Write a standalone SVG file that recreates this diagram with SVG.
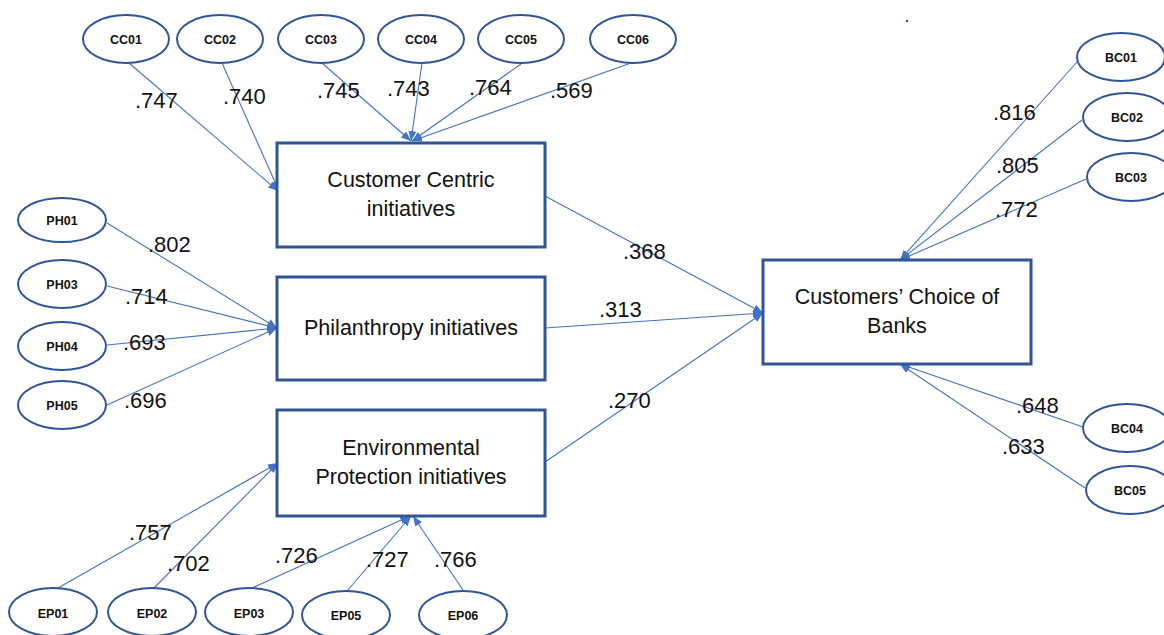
<svg xmlns="http://www.w3.org/2000/svg" width="1164" height="635" viewBox="0 0 1164 635">
<defs>
<marker id="arr" markerUnits="userSpaceOnUse" markerWidth="10" markerHeight="10" viewBox="0 0 10 10" refX="10" refY="5" orient="auto">
<path d="M0,1 L10,5 L0,9 Z" fill="#4472C4"/>
</marker>
<style>
.box{fill:#fff;stroke:#2F5597;stroke-width:3}
.ell{fill:#fff;stroke:#2F5597;stroke-width:2}
.ln{stroke:#4472C4;stroke-width:1.1;fill:none;marker-end:url(#arr)}
.bt{font-family:"Liberation Sans",Arial,sans-serif;font-size:21.5px;fill:#111;text-anchor:middle}
.et{font-family:"Liberation Sans",Arial,sans-serif;font-size:12.5px;font-weight:bold;fill:#111;text-anchor:middle}
.lb{font-family:"Liberation Sans",Arial,sans-serif;font-size:22px;fill:#111}
</style>
</defs>
<rect width="1164" height="635" fill="#fff"/>
<rect x="906" y="20" width="2" height="2" fill="#3333ff"/>

<g id="connectors">
<line class="ln" x1="129" y1="63" x2="278" y2="191"/>
<line class="ln" x1="222" y1="63" x2="279" y2="191"/>
<line class="ln" x1="322" y1="63" x2="411" y2="141"/>
<line class="ln" x1="422" y1="63" x2="411" y2="141"/>
<line class="ln" x1="521" y1="64" x2="412" y2="141"/>
<line class="ln" x1="631" y1="63" x2="412" y2="141"/>
<line class="ln" x1="107" y1="223" x2="277" y2="328"/>
<line class="ln" x1="107" y1="286" x2="277" y2="328"/>
<line class="ln" x1="107" y1="345" x2="277" y2="328"/>
<line class="ln" x1="107" y1="405" x2="277" y2="328"/>
<line class="ln" x1="58" y1="588" x2="278" y2="463"/>
<line class="ln" x1="154" y1="588" x2="278" y2="463"/>
<line class="ln" x1="252" y1="588" x2="410" y2="516"/>
<line class="ln" x1="348" y1="590" x2="411" y2="516"/>
<line class="ln" x1="463" y1="590" x2="413" y2="516"/>
<line class="ln" x1="545" y1="196" x2="763" y2="313"/>
<line class="ln" x1="545" y1="328" x2="763" y2="313"/>
<line class="ln" x1="545" y1="462" x2="763" y2="313"/>
<line class="ln" x1="1077" y1="62" x2="900" y2="260"/>
<line class="ln" x1="1082" y1="120" x2="900" y2="260"/>
<line class="ln" x1="1086" y1="179" x2="900" y2="260"/>
<line class="ln" x1="1083" y1="427" x2="900" y2="364"/>
<line class="ln" x1="1085" y1="488" x2="900" y2="364"/>
</g>

<g id="labels">
<text class="lb" x="135" y="108">.747</text>
<text class="lb" x="223" y="104">.740</text>
<text class="lb" x="317" y="98">.745</text>
<text class="lb" x="387" y="96">.743</text>
<text class="lb" x="469" y="95">.764</text>
<text class="lb" x="550" y="98">.569</text>
<text class="lb" x="148" y="252">.802</text>
<text class="lb" x="125" y="304">.714</text>
<text class="lb" x="123" y="350">.693</text>
<text class="lb" x="124" y="408">.696</text>
<text class="lb" x="129" y="540">.757</text>
<text class="lb" x="167" y="571">.702</text>
<text class="lb" x="275" y="563">.726</text>
<text class="lb" x="366" y="567">.727</text>
<text class="lb" x="434" y="567">.766</text>
<text class="lb" x="623" y="259">.368</text>
<text class="lb" x="599" y="317">.313</text>
<text class="lb" x="608" y="408">.270</text>
<text class="lb" x="993" y="120">.816</text>
<text class="lb" x="996" y="173">.805</text>
<text class="lb" x="995" y="217">.772</text>
<text class="lb" x="1016" y="413">.648</text>
<text class="lb" x="1002" y="454">.633</text>
</g>

<g id="CC01"><ellipse class="ell" cx="126" cy="39" rx="43" ry="24"/><text class="et" x="126" y="44">CC01</text></g>
<g id="CC02"><ellipse class="ell" cx="220" cy="39" rx="43" ry="24"/><text class="et" x="220" y="44">CC02</text></g>
<g id="CC03"><ellipse class="ell" cx="321" cy="39" rx="43" ry="24"/><text class="et" x="321" y="44">CC03</text></g>
<g id="CC04"><ellipse class="ell" cx="421" cy="39" rx="43" ry="24"/><text class="et" x="421" y="44">CC04</text></g>
<g id="CC05"><ellipse class="ell" cx="521" cy="39" rx="43" ry="24"/><text class="et" x="521" y="44">CC05</text></g>
<g id="CC06"><ellipse class="ell" cx="633" cy="39" rx="43" ry="24"/><text class="et" x="633" y="44">CC06</text></g>

<g id="PH01"><ellipse class="ell" cx="62" cy="220" rx="44" ry="22"/><text class="et" x="62" y="225">PH01</text></g>
<g id="PH03"><ellipse class="ell" cx="62" cy="284" rx="44" ry="24"/><text class="et" x="62" y="289">PH03</text></g>
<g id="PH04"><ellipse class="ell" cx="62" cy="346" rx="44" ry="24"/><text class="et" x="62" y="351">PH04</text></g>
<g id="PH05"><ellipse class="ell" cx="62" cy="405" rx="44" ry="24"/><text class="et" x="62" y="410">PH05</text></g>

<g id="EP01"><ellipse class="ell" cx="53" cy="612" rx="44" ry="24"/><text class="et" x="53" y="618">EP01</text></g>
<g id="EP02"><ellipse class="ell" cx="152" cy="612" rx="44" ry="24"/><text class="et" x="152" y="618">EP02</text></g>
<g id="EP03"><ellipse class="ell" cx="249" cy="612" rx="44" ry="24"/><text class="et" x="249" y="618">EP03</text></g>
<g id="EP05"><ellipse class="ell" cx="346" cy="615" rx="44" ry="24"/><text class="et" x="346" y="620">EP05</text></g>
<g id="EP06"><ellipse class="ell" cx="463" cy="615" rx="44" ry="24"/><text class="et" x="463" y="620">EP06</text></g>

<g id="BC01"><ellipse class="ell" cx="1121" cy="57" rx="44" ry="24"/><text class="et" x="1121" y="62">BC01</text></g>
<g id="BC02"><ellipse class="ell" cx="1127" cy="117" rx="44" ry="24"/><text class="et" x="1127" y="122">BC02</text></g>
<g id="BC03"><ellipse class="ell" cx="1131" cy="177" rx="44" ry="24"/><text class="et" x="1131" y="182">BC03</text></g>
<g id="BC04"><ellipse class="ell" cx="1127" cy="428" rx="44" ry="24"/><text class="et" x="1127" y="433">BC04</text></g>
<g id="BC05"><ellipse class="ell" cx="1130" cy="490" rx="44" ry="24"/><text class="et" x="1130" y="495">BC05</text></g>

<g id="customer-centric"><rect class="box" x="277" y="143" width="268" height="104"/><text class="bt" x="411" y="187">Customer Centric</text><text class="bt" x="411" y="216">initiatives</text></g>
<g id="philanthropy"><rect class="box" x="277" y="277" width="268" height="103"/><text class="bt" x="411" y="335">Philanthropy initiatives</text></g>
<g id="environmental"><rect class="box" x="277" y="410" width="268" height="106"/><text class="bt" x="411" y="455">Environmental</text><text class="bt" x="411" y="484">Protection initiatives</text></g>
<g id="choice"><rect class="box" x="763" y="260" width="268" height="104"/><text class="bt" x="897" y="304">Customers’ Choice of</text><text class="bt" x="897" y="333">Banks</text></g>
</svg>
